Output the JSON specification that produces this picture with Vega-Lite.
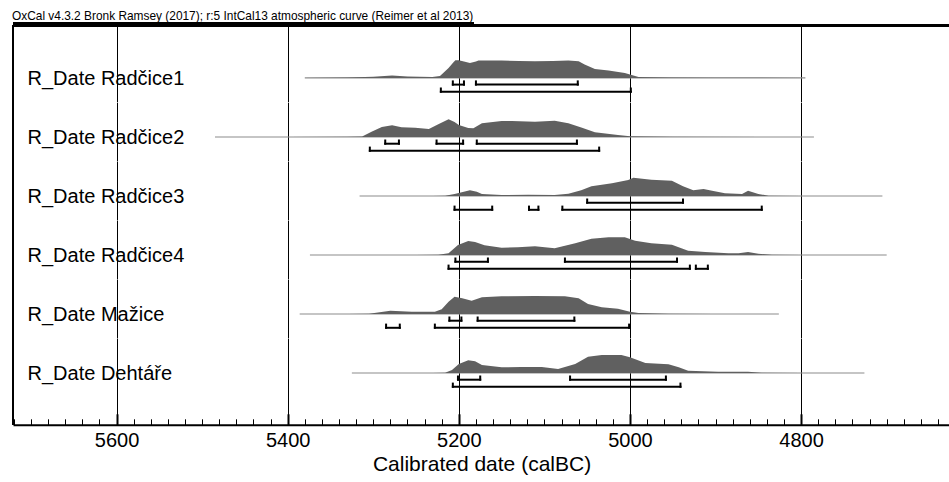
{
  "$schema": "https://vega.github.io/schema/vega-lite/v6.json",
  "padding": {"left": 12, "top": 9.5, "right": 0, "bottom": 0},
  "autosize": {"type": "pad"},
  "title": {"text": "OxCal v4.3.2 Bronk Ramsey (2017); r:5 IntCal13 atmospheric curve (Reimer et al 2013)", "anchor": "start", "fontSize": 11.9, "fontWeight": "normal", "color": "black", "offset": -0.2},
  "config": {
    "font": "Liberation Sans",
    "view": {"stroke": null},
    "axisY": {"disable": true},
    "axisX": {"domain": false, "ticks": false, "labels": false, "grid": true, "gridColor": "black", "gridWidth": 1, "gridOpacity": 1}
  },
  "data": {"values": [
    {"name": "R_Date Radčice1", "date": 5380, "p": 0}, {"name": "R_Date Radčice1", "date": 5330, "p": 0.3}, {"name": "R_Date Radčice1", "date": 5300, "p": 1.2}, {"name": "R_Date Radčice1", "date": 5278, "p": 2.3}, {"name": "R_Date Radčice1", "date": 5260, "p": 1.5}, {"name": "R_Date Radčice1", "date": 5231, "p": 1}, {"name": "R_Date Radčice1", "date": 5222, "p": 2}, {"name": "R_Date Radčice1", "date": 5212, "p": 10}, {"name": "R_Date Radčice1", "date": 5206, "p": 16}, {"name": "R_Date Radčice1", "date": 5204, "p": 17.7}, {"name": "R_Date Radčice1", "date": 5200, "p": 17.7}, {"name": "R_Date Radčice1", "date": 5194, "p": 16.5}, {"name": "R_Date Radčice1", "date": 5187, "p": 15}, {"name": "R_Date Radčice1", "date": 5180, "p": 16.5}, {"name": "R_Date Radčice1", "date": 5177, "p": 17.3}, {"name": "R_Date Radčice1", "date": 5150, "p": 17.3}, {"name": "R_Date Radčice1", "date": 5130, "p": 17}, {"name": "R_Date Radčice1", "date": 5111, "p": 16.7}, {"name": "R_Date Radčice1", "date": 5090, "p": 17}, {"name": "R_Date Radčice1", "date": 5072, "p": 17.5}, {"name": "R_Date Radčice1", "date": 5060, "p": 16.7}, {"name": "R_Date Radčice1", "date": 5053, "p": 13.3}, {"name": "R_Date Radčice1", "date": 5041, "p": 9}, {"name": "R_Date Radčice1", "date": 5025, "p": 7.3}, {"name": "R_Date Radčice1", "date": 5006, "p": 5}, {"name": "R_Date Radčice1", "date": 5000, "p": 3.3}, {"name": "R_Date Radčice1", "date": 4990, "p": 1}, {"name": "R_Date Radčice1", "date": 4955, "p": 0.3}, {"name": "R_Date Radčice1", "date": 4900, "p": 0.1}, {"name": "R_Date Radčice1", "date": 4795, "p": 0},
    {"name": "R_Date Radčice2", "date": 5485, "p": 0}, {"name": "R_Date Radčice2", "date": 5400, "p": 0.1}, {"name": "R_Date Radčice2", "date": 5330, "p": 0.3}, {"name": "R_Date Radčice2", "date": 5313, "p": 0.5}, {"name": "R_Date Radčice2", "date": 5302, "p": 5.3}, {"name": "R_Date Radčice2", "date": 5290, "p": 10}, {"name": "R_Date Radčice2", "date": 5278, "p": 11.7}, {"name": "R_Date Radčice2", "date": 5267, "p": 9.7}, {"name": "R_Date Radčice2", "date": 5251, "p": 9.3}, {"name": "R_Date Radčice2", "date": 5235, "p": 8}, {"name": "R_Date Radčice2", "date": 5224, "p": 12.7}, {"name": "R_Date Radčice2", "date": 5212, "p": 17.7}, {"name": "R_Date Radčice2", "date": 5205, "p": 15}, {"name": "R_Date Radčice2", "date": 5200, "p": 12}, {"name": "R_Date Radčice2", "date": 5189, "p": 9}, {"name": "R_Date Radčice2", "date": 5183, "p": 8.7}, {"name": "R_Date Radčice2", "date": 5173, "p": 13.7}, {"name": "R_Date Radčice2", "date": 5150, "p": 16}, {"name": "R_Date Radčice2", "date": 5138, "p": 16}, {"name": "R_Date Radčice2", "date": 5111, "p": 15.3}, {"name": "R_Date Radčice2", "date": 5088, "p": 16.3}, {"name": "R_Date Radčice2", "date": 5072, "p": 13.7}, {"name": "R_Date Radčice2", "date": 5056, "p": 9.3}, {"name": "R_Date Radčice2", "date": 5041, "p": 4.7}, {"name": "R_Date Radčice2", "date": 5014, "p": 2}, {"name": "R_Date Radčice2", "date": 5000, "p": 0.7}, {"name": "R_Date Radčice2", "date": 4950, "p": 0.2}, {"name": "R_Date Radčice2", "date": 4785, "p": 0},
    {"name": "R_Date Radčice3", "date": 5316, "p": 0}, {"name": "R_Date Radčice3", "date": 5230, "p": 0.1}, {"name": "R_Date Radčice3", "date": 5216, "p": 0.3}, {"name": "R_Date Radčice3", "date": 5205, "p": 2}, {"name": "R_Date Radčice3", "date": 5187, "p": 5.7}, {"name": "R_Date Radčice3", "date": 5179, "p": 4.3}, {"name": "R_Date Radčice3", "date": 5173, "p": 2}, {"name": "R_Date Radčice3", "date": 5150, "p": 1}, {"name": "R_Date Radčice3", "date": 5119, "p": 1.3}, {"name": "R_Date Radčice3", "date": 5088, "p": 1}, {"name": "R_Date Radčice3", "date": 5072, "p": 2.3}, {"name": "R_Date Radčice3", "date": 5057, "p": 5.7}, {"name": "R_Date Radčice3", "date": 5045, "p": 9.7}, {"name": "R_Date Radčice3", "date": 5021, "p": 12.7}, {"name": "R_Date Radčice3", "date": 5002, "p": 16}, {"name": "R_Date Radčice3", "date": 4996, "p": 18.3}, {"name": "R_Date Radčice3", "date": 4975, "p": 16.3}, {"name": "R_Date Radčice3", "date": 4951, "p": 15.3}, {"name": "R_Date Radčice3", "date": 4938, "p": 9.7}, {"name": "R_Date Radčice3", "date": 4926, "p": 5.7}, {"name": "R_Date Radčice3", "date": 4914, "p": 7}, {"name": "R_Date Radčice3", "date": 4904, "p": 5.3}, {"name": "R_Date Radčice3", "date": 4889, "p": 2.7}, {"name": "R_Date Radčice3", "date": 4869, "p": 2}, {"name": "R_Date Radčice3", "date": 4862, "p": 5.3}, {"name": "R_Date Radčice3", "date": 4850, "p": 2}, {"name": "R_Date Radčice3", "date": 4838, "p": 0.3}, {"name": "R_Date Radčice3", "date": 4800, "p": 0.1}, {"name": "R_Date Radčice3", "date": 4705, "p": 0},
    {"name": "R_Date Radčice4", "date": 5374, "p": 0}, {"name": "R_Date Radčice4", "date": 5250, "p": 0.1}, {"name": "R_Date Radčice4", "date": 5224, "p": 0.3}, {"name": "R_Date Radčice4", "date": 5212, "p": 1.7}, {"name": "R_Date Radčice4", "date": 5201, "p": 10}, {"name": "R_Date Radčice4", "date": 5189, "p": 14}, {"name": "R_Date Radčice4", "date": 5181, "p": 13}, {"name": "R_Date Radčice4", "date": 5170, "p": 9.7}, {"name": "R_Date Radčice4", "date": 5150, "p": 7.3}, {"name": "R_Date Radčice4", "date": 5131, "p": 7.7}, {"name": "R_Date Radčice4", "date": 5111, "p": 8.7}, {"name": "R_Date Radčice4", "date": 5088, "p": 6.7}, {"name": "R_Date Radčice4", "date": 5064, "p": 11.7}, {"name": "R_Date Radčice4", "date": 5045, "p": 16.3}, {"name": "R_Date Radčice4", "date": 5025, "p": 17.7}, {"name": "R_Date Radčice4", "date": 5006, "p": 17.7}, {"name": "R_Date Radčice4", "date": 4994, "p": 14.3}, {"name": "R_Date Radčice4", "date": 4975, "p": 11.7}, {"name": "R_Date Radčice4", "date": 4951, "p": 10.3}, {"name": "R_Date Radčice4", "date": 4932, "p": 4.3}, {"name": "R_Date Radčice4", "date": 4912, "p": 3}, {"name": "R_Date Radčice4", "date": 4885, "p": 1.7}, {"name": "R_Date Radčice4", "date": 4873, "p": 1.7}, {"name": "R_Date Radčice4", "date": 4862, "p": 3}, {"name": "R_Date Radčice4", "date": 4850, "p": 1.3}, {"name": "R_Date Radčice4", "date": 4834, "p": 0.2}, {"name": "R_Date Radčice4", "date": 4800, "p": 0.1}, {"name": "R_Date Radčice4", "date": 4700, "p": 0},
    {"name": "R_Date Mažice", "date": 5386, "p": 0}, {"name": "R_Date Mažice", "date": 5330, "p": 0.1}, {"name": "R_Date Mažice", "date": 5305, "p": 0.3}, {"name": "R_Date Mažice", "date": 5280, "p": 3.3}, {"name": "R_Date Mažice", "date": 5255, "p": 2.3}, {"name": "R_Date Mažice", "date": 5228, "p": 2.3}, {"name": "R_Date Mažice", "date": 5220, "p": 4.7}, {"name": "R_Date Mažice", "date": 5212, "p": 12.3}, {"name": "R_Date Mažice", "date": 5205, "p": 17.3}, {"name": "R_Date Mažice", "date": 5196, "p": 15.7}, {"name": "R_Date Mažice", "date": 5185, "p": 13.3}, {"name": "R_Date Mažice", "date": 5173, "p": 16.7}, {"name": "R_Date Mažice", "date": 5150, "p": 17.7}, {"name": "R_Date Mažice", "date": 5111, "p": 18}, {"name": "R_Date Mažice", "date": 5076, "p": 17.7}, {"name": "R_Date Mažice", "date": 5060, "p": 15.7}, {"name": "R_Date Mažice", "date": 5049, "p": 10}, {"name": "R_Date Mažice", "date": 5033, "p": 6.7}, {"name": "R_Date Mažice", "date": 5014, "p": 5.3}, {"name": "R_Date Mažice", "date": 5000, "p": 2.3}, {"name": "R_Date Mažice", "date": 4990, "p": 1}, {"name": "R_Date Mažice", "date": 4955, "p": 0.3}, {"name": "R_Date Mažice", "date": 4900, "p": 0.1}, {"name": "R_Date Mažice", "date": 4826, "p": 0},
    {"name": "R_Date Dehtáře", "date": 5325, "p": 0}, {"name": "R_Date Dehtáře", "date": 5230, "p": 0.1}, {"name": "R_Date Dehtáře", "date": 5216, "p": 0.3}, {"name": "R_Date Dehtáře", "date": 5208, "p": 3}, {"name": "R_Date Dehtáře", "date": 5200, "p": 9}, {"name": "R_Date Dehtáře", "date": 5189, "p": 12.7}, {"name": "R_Date Dehtáře", "date": 5181, "p": 11.7}, {"name": "R_Date Dehtáře", "date": 5173, "p": 8}, {"name": "R_Date Dehtáře", "date": 5150, "p": 5.7}, {"name": "R_Date Dehtáře", "date": 5127, "p": 6}, {"name": "R_Date Dehtáře", "date": 5103, "p": 6}, {"name": "R_Date Dehtáře", "date": 5084, "p": 4}, {"name": "R_Date Dehtáře", "date": 5064, "p": 9}, {"name": "R_Date Dehtáře", "date": 5049, "p": 16.3}, {"name": "R_Date Dehtáře", "date": 5033, "p": 18}, {"name": "R_Date Dehtáře", "date": 5010, "p": 18}, {"name": "R_Date Dehtáře", "date": 5000, "p": 15.7}, {"name": "R_Date Dehtáře", "date": 4982, "p": 10}, {"name": "R_Date Dehtáře", "date": 4955, "p": 8.7}, {"name": "R_Date Dehtáře", "date": 4943, "p": 5.7}, {"name": "R_Date Dehtáře", "date": 4932, "p": 2.3}, {"name": "R_Date Dehtáře", "date": 4897, "p": 1.3}, {"name": "R_Date Dehtáře", "date": 4862, "p": 1.3}, {"name": "R_Date Dehtáře", "date": 4846, "p": 0.3}, {"name": "R_Date Dehtáře", "date": 4800, "p": 0.1}, {"name": "R_Date Dehtáře", "date": 4726, "p": 0},
    {"name": "R_Date Radčice1", "level": "68.2%", "from": 5207, "to": 5194}, {"name": "R_Date Radčice1", "level": "68.2%", "from": 5180, "to": 5061}, {"name": "R_Date Radčice1", "level": "95.4%", "from": 5221, "to": 4999},
    {"name": "R_Date Radčice2", "level": "68.2%", "from": 5286, "to": 5270}, {"name": "R_Date Radčice2", "level": "68.2%", "from": 5226, "to": 5195}, {"name": "R_Date Radčice2", "level": "68.2%", "from": 5179, "to": 5062}, {"name": "R_Date Radčice2", "level": "95.4%", "from": 5304, "to": 5036},
    {"name": "R_Date Radčice3", "level": "68.2%", "from": 5050, "to": 4938}, {"name": "R_Date Radčice3", "level": "95.4%", "from": 5205, "to": 5161}, {"name": "R_Date Radčice3", "level": "95.4%", "from": 5118, "to": 5107}, {"name": "R_Date Radčice3", "level": "95.4%", "from": 5079, "to": 4846},
    {"name": "R_Date Radčice4", "level": "68.2%", "from": 5204, "to": 5166}, {"name": "R_Date Radčice4", "level": "68.2%", "from": 5076, "to": 4945}, {"name": "R_Date Radčice4", "level": "95.4%", "from": 5212, "to": 4930}, {"name": "R_Date Radčice4", "level": "95.4%", "from": 4923, "to": 4909},
    {"name": "R_Date Mažice", "level": "68.2%", "from": 5211, "to": 5197}, {"name": "R_Date Mažice", "level": "68.2%", "from": 5178, "to": 5065}, {"name": "R_Date Mažice", "level": "95.4%", "from": 5285, "to": 5269}, {"name": "R_Date Mažice", "level": "95.4%", "from": 5228, "to": 5001},
    {"name": "R_Date Dehtáře", "level": "68.2%", "from": 5201, "to": 5175}, {"name": "R_Date Dehtáře", "level": "68.2%", "from": 5070, "to": 4958}, {"name": "R_Date Dehtáře", "level": "95.4%", "from": 5207, "to": 4941}
  ]},
  "spacing": 0,
  "bounds": "flush",
  "vconcat": [
    {
      "width": 937, "height": 76.4,
      "transform": [{"filter": {"field": "name", "equal": "R_Date Radčice1"}}],
      "layer": [
        {"mark": {"type": "rule", "color": "black", "strokeWidth": 2}, "encoding": {"y": {"datum": 52.4, "scale": {"domain": [-24, 52.4], "nice": false, "zero": false}}}},
        {"mark": {"type": "rule", "color": "black", "strokeWidth": 2}, "encoding": {"x": {"datum": 5721, "scale": {"domain": [4626, 5721], "reverse": true, "nice": false, "zero": false}, "axis": {"values": [4800, 5000, 5200, 5400, 5600], "title": null}}}},
        {"mark": {"type": "rule", "color": "black", "strokeWidth": 0.8}, "encoding": {"x": {"datum": 5721}, "x2": {"datum": 5183}, "y": {"datum": 54.9}}},
        {"transform": [{"filter": "isValid(datum.p)"}], "mark": {"type": "rule", "color": "#8c8c8c", "strokeWidth": 1.2}, "encoding": {"x": {"aggregate": "min", "field": "date", "type": "quantitative"}, "x2": {"aggregate": "max", "field": "date"}, "y": {"datum": 0}}},
        {"transform": [{"filter": "isValid(datum.p)"}], "mark": {"type": "area", "color": "#606060", "opacity": 1}, "encoding": {"x": {"field": "date", "type": "quantitative"}, "y": {"field": "p", "type": "quantitative"}, "y2": {"datum": 0}}},
        {"transform": [{"filter": "datum.level === '68.2%'"}], "mark": {"type": "rule", "color": "black", "strokeWidth": 2, "strokeCap": "square"}, "encoding": {"x": {"field": "from", "type": "quantitative"}, "x2": {"field": "to"}, "y": {"datum": -6.7}}},
        {"transform": [{"filter": "datum.level === '68.2%'"}, {"fold": ["from", "to"]}], "mark": {"type": "rule", "color": "black", "strokeWidth": 2, "strokeCap": "square"}, "encoding": {"x": {"field": "value", "type": "quantitative"}, "y": {"datum": -6.7}, "y2": {"datum": -3.5}}},
        {"transform": [{"filter": "datum.level === '95.4%'"}], "mark": {"type": "rule", "color": "black", "strokeWidth": 2, "strokeCap": "square"}, "encoding": {"x": {"field": "from", "type": "quantitative"}, "x2": {"field": "to"}, "y": {"datum": -13.8}}},
        {"transform": [{"filter": "datum.level === '95.4%'"}, {"fold": ["from", "to"]}], "mark": {"type": "rule", "color": "black", "strokeWidth": 2, "strokeCap": "square"}, "encoding": {"x": {"field": "value", "type": "quantitative"}, "y": {"datum": -13.8}, "y2": {"datum": -10.6}}},
        {"transform": [{"aggregate": [{"op": "count", "as": "n"}], "groupby": ["name"]}], "mark": {"type": "text", "align": "left", "baseline": "alphabetic", "dy": 7, "fontSize": 20, "color": "black"}, "encoding": {"x": {"datum": 5704}, "y": {"datum": 0}, "text": {"field": "name"}}}
      ]
    },
    {
      "width": 937, "height": 58.5,
      "transform": [{"filter": {"field": "name", "equal": "R_Date Radčice2"}}],
      "layer": [
        {"mark": {"type": "rule", "color": "black", "strokeWidth": 2}, "encoding": {"x": {"datum": 5721, "scale": {"domain": [4626, 5721], "reverse": true, "nice": false, "zero": false}, "axis": {"values": [4800, 5000, 5200, 5400, 5600], "title": null}}, "y": {"datum": -24, "scale": {"domain": [-24, 34.5], "nice": false, "zero": false}}, "y2": {"datum": 34.5}}},
        {"transform": [{"filter": "isValid(datum.p)"}], "mark": {"type": "rule", "color": "#8c8c8c", "strokeWidth": 1.2}, "encoding": {"x": {"aggregate": "min", "field": "date", "type": "quantitative"}, "x2": {"aggregate": "max", "field": "date"}, "y": {"datum": 0}}},
        {"transform": [{"filter": "isValid(datum.p)"}], "mark": {"type": "area", "color": "#606060", "opacity": 1}, "encoding": {"x": {"field": "date", "type": "quantitative"}, "y": {"field": "p", "type": "quantitative"}, "y2": {"datum": 0}}},
        {"transform": [{"filter": "datum.level === '68.2%'"}], "mark": {"type": "rule", "color": "black", "strokeWidth": 2, "strokeCap": "square"}, "encoding": {"x": {"field": "from", "type": "quantitative"}, "x2": {"field": "to"}, "y": {"datum": -6.7}}},
        {"transform": [{"filter": "datum.level === '68.2%'"}, {"fold": ["from", "to"]}], "mark": {"type": "rule", "color": "black", "strokeWidth": 2, "strokeCap": "square"}, "encoding": {"x": {"field": "value", "type": "quantitative"}, "y": {"datum": -6.7}, "y2": {"datum": -3.5}}},
        {"transform": [{"filter": "datum.level === '95.4%'"}], "mark": {"type": "rule", "color": "black", "strokeWidth": 2, "strokeCap": "square"}, "encoding": {"x": {"field": "from", "type": "quantitative"}, "x2": {"field": "to"}, "y": {"datum": -13.8}}},
        {"transform": [{"filter": "datum.level === '95.4%'"}, {"fold": ["from", "to"]}], "mark": {"type": "rule", "color": "black", "strokeWidth": 2, "strokeCap": "square"}, "encoding": {"x": {"field": "value", "type": "quantitative"}, "y": {"datum": -13.8}, "y2": {"datum": -10.6}}},
        {"transform": [{"aggregate": [{"op": "count", "as": "n"}], "groupby": ["name"]}], "mark": {"type": "text", "align": "left", "baseline": "alphabetic", "dy": 7, "fontSize": 20, "color": "black"}, "encoding": {"x": {"datum": 5704}, "y": {"datum": 0}, "text": {"field": "name"}}}
      ]
    },
    {
      "width": 937, "height": 58.5,
      "transform": [{"filter": {"field": "name", "equal": "R_Date Radčice3"}}],
      "layer": [
        {"mark": {"type": "rule", "color": "black", "strokeWidth": 2}, "encoding": {"x": {"datum": 5721, "scale": {"domain": [4626, 5721], "reverse": true, "nice": false, "zero": false}, "axis": {"values": [4800, 5000, 5200, 5400, 5600], "title": null}}, "y": {"datum": -24, "scale": {"domain": [-24, 34.5], "nice": false, "zero": false}}, "y2": {"datum": 34.5}}},
        {"transform": [{"filter": "isValid(datum.p)"}], "mark": {"type": "rule", "color": "#8c8c8c", "strokeWidth": 1.2}, "encoding": {"x": {"aggregate": "min", "field": "date", "type": "quantitative"}, "x2": {"aggregate": "max", "field": "date"}, "y": {"datum": 0}}},
        {"transform": [{"filter": "isValid(datum.p)"}], "mark": {"type": "area", "color": "#606060", "opacity": 1}, "encoding": {"x": {"field": "date", "type": "quantitative"}, "y": {"field": "p", "type": "quantitative"}, "y2": {"datum": 0}}},
        {"transform": [{"filter": "datum.level === '68.2%'"}], "mark": {"type": "rule", "color": "black", "strokeWidth": 2, "strokeCap": "square"}, "encoding": {"x": {"field": "from", "type": "quantitative"}, "x2": {"field": "to"}, "y": {"datum": -6.7}}},
        {"transform": [{"filter": "datum.level === '68.2%'"}, {"fold": ["from", "to"]}], "mark": {"type": "rule", "color": "black", "strokeWidth": 2, "strokeCap": "square"}, "encoding": {"x": {"field": "value", "type": "quantitative"}, "y": {"datum": -6.7}, "y2": {"datum": -3.5}}},
        {"transform": [{"filter": "datum.level === '95.4%'"}], "mark": {"type": "rule", "color": "black", "strokeWidth": 2, "strokeCap": "square"}, "encoding": {"x": {"field": "from", "type": "quantitative"}, "x2": {"field": "to"}, "y": {"datum": -13.8}}},
        {"transform": [{"filter": "datum.level === '95.4%'"}, {"fold": ["from", "to"]}], "mark": {"type": "rule", "color": "black", "strokeWidth": 2, "strokeCap": "square"}, "encoding": {"x": {"field": "value", "type": "quantitative"}, "y": {"datum": -13.8}, "y2": {"datum": -10.6}}},
        {"transform": [{"aggregate": [{"op": "count", "as": "n"}], "groupby": ["name"]}], "mark": {"type": "text", "align": "left", "baseline": "alphabetic", "dy": 7, "fontSize": 20, "color": "black"}, "encoding": {"x": {"datum": 5704}, "y": {"datum": 0}, "text": {"field": "name"}}}
      ]
    },
    {
      "width": 937, "height": 58.5,
      "transform": [{"filter": {"field": "name", "equal": "R_Date Radčice4"}}],
      "layer": [
        {"mark": {"type": "rule", "color": "black", "strokeWidth": 2}, "encoding": {"x": {"datum": 5721, "scale": {"domain": [4626, 5721], "reverse": true, "nice": false, "zero": false}, "axis": {"values": [4800, 5000, 5200, 5400, 5600], "title": null}}, "y": {"datum": -24, "scale": {"domain": [-24, 34.5], "nice": false, "zero": false}}, "y2": {"datum": 34.5}}},
        {"transform": [{"filter": "isValid(datum.p)"}], "mark": {"type": "rule", "color": "#8c8c8c", "strokeWidth": 1.2}, "encoding": {"x": {"aggregate": "min", "field": "date", "type": "quantitative"}, "x2": {"aggregate": "max", "field": "date"}, "y": {"datum": 0}}},
        {"transform": [{"filter": "isValid(datum.p)"}], "mark": {"type": "area", "color": "#606060", "opacity": 1}, "encoding": {"x": {"field": "date", "type": "quantitative"}, "y": {"field": "p", "type": "quantitative"}, "y2": {"datum": 0}}},
        {"transform": [{"filter": "datum.level === '68.2%'"}], "mark": {"type": "rule", "color": "black", "strokeWidth": 2, "strokeCap": "square"}, "encoding": {"x": {"field": "from", "type": "quantitative"}, "x2": {"field": "to"}, "y": {"datum": -6.7}}},
        {"transform": [{"filter": "datum.level === '68.2%'"}, {"fold": ["from", "to"]}], "mark": {"type": "rule", "color": "black", "strokeWidth": 2, "strokeCap": "square"}, "encoding": {"x": {"field": "value", "type": "quantitative"}, "y": {"datum": -6.7}, "y2": {"datum": -3.5}}},
        {"transform": [{"filter": "datum.level === '95.4%'"}], "mark": {"type": "rule", "color": "black", "strokeWidth": 2, "strokeCap": "square"}, "encoding": {"x": {"field": "from", "type": "quantitative"}, "x2": {"field": "to"}, "y": {"datum": -13.8}}},
        {"transform": [{"filter": "datum.level === '95.4%'"}, {"fold": ["from", "to"]}], "mark": {"type": "rule", "color": "black", "strokeWidth": 2, "strokeCap": "square"}, "encoding": {"x": {"field": "value", "type": "quantitative"}, "y": {"datum": -13.8}, "y2": {"datum": -10.6}}},
        {"transform": [{"aggregate": [{"op": "count", "as": "n"}], "groupby": ["name"]}], "mark": {"type": "text", "align": "left", "baseline": "alphabetic", "dy": 7, "fontSize": 20, "color": "black"}, "encoding": {"x": {"datum": 5704}, "y": {"datum": 0}, "text": {"field": "name"}}}
      ]
    },
    {
      "width": 937, "height": 58.5,
      "transform": [{"filter": {"field": "name", "equal": "R_Date Mažice"}}],
      "layer": [
        {"mark": {"type": "rule", "color": "black", "strokeWidth": 2}, "encoding": {"x": {"datum": 5721, "scale": {"domain": [4626, 5721], "reverse": true, "nice": false, "zero": false}, "axis": {"values": [4800, 5000, 5200, 5400, 5600], "title": null}}, "y": {"datum": -24, "scale": {"domain": [-24, 34.5], "nice": false, "zero": false}}, "y2": {"datum": 34.5}}},
        {"transform": [{"filter": "isValid(datum.p)"}], "mark": {"type": "rule", "color": "#8c8c8c", "strokeWidth": 1.2}, "encoding": {"x": {"aggregate": "min", "field": "date", "type": "quantitative"}, "x2": {"aggregate": "max", "field": "date"}, "y": {"datum": 0}}},
        {"transform": [{"filter": "isValid(datum.p)"}], "mark": {"type": "area", "color": "#606060", "opacity": 1}, "encoding": {"x": {"field": "date", "type": "quantitative"}, "y": {"field": "p", "type": "quantitative"}, "y2": {"datum": 0}}},
        {"transform": [{"filter": "datum.level === '68.2%'"}], "mark": {"type": "rule", "color": "black", "strokeWidth": 2, "strokeCap": "square"}, "encoding": {"x": {"field": "from", "type": "quantitative"}, "x2": {"field": "to"}, "y": {"datum": -6.7}}},
        {"transform": [{"filter": "datum.level === '68.2%'"}, {"fold": ["from", "to"]}], "mark": {"type": "rule", "color": "black", "strokeWidth": 2, "strokeCap": "square"}, "encoding": {"x": {"field": "value", "type": "quantitative"}, "y": {"datum": -6.7}, "y2": {"datum": -3.5}}},
        {"transform": [{"filter": "datum.level === '95.4%'"}], "mark": {"type": "rule", "color": "black", "strokeWidth": 2, "strokeCap": "square"}, "encoding": {"x": {"field": "from", "type": "quantitative"}, "x2": {"field": "to"}, "y": {"datum": -13.8}}},
        {"transform": [{"filter": "datum.level === '95.4%'"}, {"fold": ["from", "to"]}], "mark": {"type": "rule", "color": "black", "strokeWidth": 2, "strokeCap": "square"}, "encoding": {"x": {"field": "value", "type": "quantitative"}, "y": {"datum": -13.8}, "y2": {"datum": -10.6}}},
        {"transform": [{"aggregate": [{"op": "count", "as": "n"}], "groupby": ["name"]}], "mark": {"type": "text", "align": "left", "baseline": "alphabetic", "dy": 7, "fontSize": 20, "color": "black"}, "encoding": {"x": {"datum": 5704}, "y": {"datum": 0}, "text": {"field": "name"}}}
      ]
    },
    {
      "width": 937, "height": 86.3,
      "transform": [{"filter": {"field": "name", "equal": "R_Date Dehtáře"}}],
      "layer": [
        {"mark": {"type": "rule", "color": "black", "strokeWidth": 2}, "encoding": {
          "x": {"datum": 5721, "scale": {"domain": [4626, 5721], "reverse": true, "nice": false, "zero": false}, "axis": {
            "values": [4640, 4660, 4680, 4700, 4720, 4740, 4760, 4780, 4800, 4820, 4840, 4860, 4880, 4900, 4920, 4940, 4960, 4980, 5000, 5020, 5040, 5060, 5080, 5100, 5120, 5140, 5160, 5180, 5200, 5220, 5240, 5260, 5280, 5300, 5320, 5340, 5360, 5380, 5400, 5420, 5440, 5460, 5480, 5500, 5520, 5540, 5560, 5580, 5600, 5620, 5640, 5660, 5680, 5700, 5720],
            "tickCount": 200,
            "title": "Calibrated date (calBC)", "titleFontSize": 21, "titleFontWeight": "normal", "titleColor": "black", "titlePadding": -2,
            "domain": true, "domainColor": "black", "domainWidth": 2,
            "ticks": true, "tickColor": "black",
            "tickSize": {"condition": {"test": "datum.value % 200 === 0", "value": -11}, "value": -6},
            "tickWidth": {"condition": {"test": "datum.value % 200 === 0", "value": 2}, "value": 1},
            "labels": true, "format": "d", "labelExpr": "datum.value % 200 === 0 ? datum.label : ''", "labelOverlap": false, "labelFontSize": 20, "labelColor": "black", "labelPadding": 17,
            "gridOpacity": {"condition": {"test": "datum.value % 200 === 0", "value": 1}, "value": 0}
          }},
          "y": {"datum": -51.8, "scale": {"domain": [-51.8, 34.5], "nice": false, "zero": false}}, "y2": {"datum": 34.5}}},
        {"transform": [{"filter": "isValid(datum.p)"}], "mark": {"type": "rule", "color": "#8c8c8c", "strokeWidth": 1.2}, "encoding": {"x": {"aggregate": "min", "field": "date", "type": "quantitative"}, "x2": {"aggregate": "max", "field": "date"}, "y": {"datum": 0}}},
        {"transform": [{"filter": "isValid(datum.p)"}], "mark": {"type": "area", "color": "#606060", "opacity": 1}, "encoding": {"x": {"field": "date", "type": "quantitative"}, "y": {"field": "p", "type": "quantitative"}, "y2": {"datum": 0}}},
        {"transform": [{"filter": "datum.level === '68.2%'"}], "mark": {"type": "rule", "color": "black", "strokeWidth": 2, "strokeCap": "square"}, "encoding": {"x": {"field": "from", "type": "quantitative"}, "x2": {"field": "to"}, "y": {"datum": -6.7}}},
        {"transform": [{"filter": "datum.level === '68.2%'"}, {"fold": ["from", "to"]}], "mark": {"type": "rule", "color": "black", "strokeWidth": 2, "strokeCap": "square"}, "encoding": {"x": {"field": "value", "type": "quantitative"}, "y": {"datum": -6.7}, "y2": {"datum": -3.5}}},
        {"transform": [{"filter": "datum.level === '95.4%'"}], "mark": {"type": "rule", "color": "black", "strokeWidth": 2, "strokeCap": "square"}, "encoding": {"x": {"field": "from", "type": "quantitative"}, "x2": {"field": "to"}, "y": {"datum": -13.8}}},
        {"transform": [{"filter": "datum.level === '95.4%'"}, {"fold": ["from", "to"]}], "mark": {"type": "rule", "color": "black", "strokeWidth": 2, "strokeCap": "square"}, "encoding": {"x": {"field": "value", "type": "quantitative"}, "y": {"datum": -13.8}, "y2": {"datum": -10.6}}},
        {"transform": [{"aggregate": [{"op": "count", "as": "n"}], "groupby": ["name"]}], "mark": {"type": "text", "align": "left", "baseline": "alphabetic", "dy": 7, "fontSize": 20, "color": "black"}, "encoding": {"x": {"datum": 5704}, "y": {"datum": 0}, "text": {"field": "name"}}}
      ]
    }
  ]
}
